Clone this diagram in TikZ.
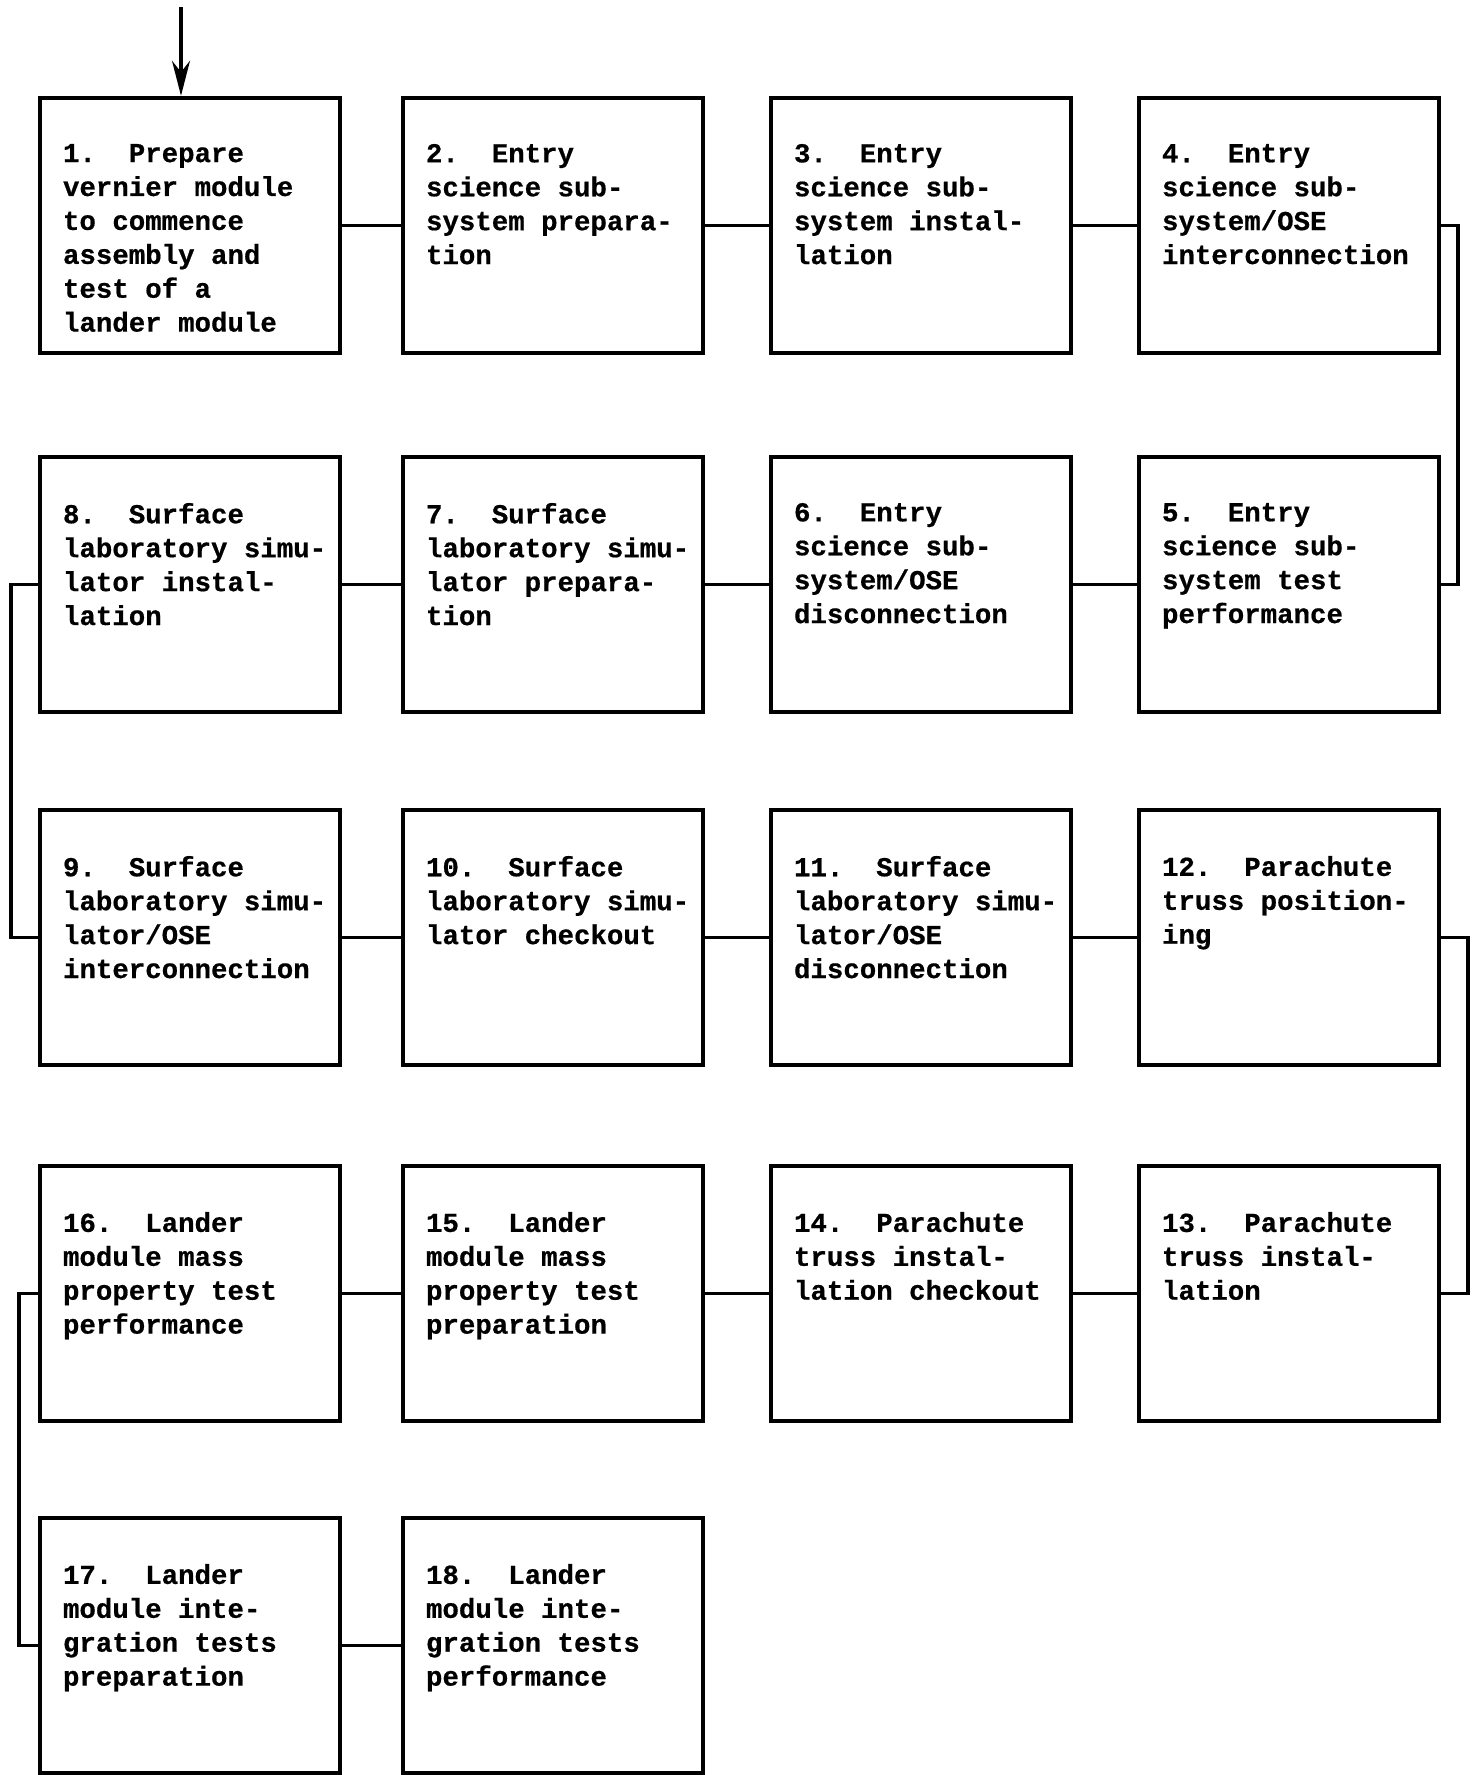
\documentclass[tikz,border=0pt]{standalone}
\usepackage{fontspec}
\setmonofont{Liberation Mono}[BoldFeatures={FakeBold=0.6}]
\usetikzlibrary{arrows.meta}
\newcommand{\boxtext}[1]{\makebox[5.08cm][l]{\parbox[t][3.26cm][t]{6.5cm}{\ttfamily\bfseries\fontsize{15.6}{19.3}\selectfont\raggedright\frenchspacing #1}}}
\tikzset{
  stepbox/.style={draw, line width=2.6pt, minimum width=6cm, minimum height=5.1cm,
    inner xsep=0.46cm, inner ysep=0.92cm},
  conn/.style={line width=1.8pt},
}
\begin{document}
\begin{tikzpicture}[x=0.02cm, y=-0.02cm]
\useasboundingbox (0,0) rectangle (1474,1775);
% row 1
\node[stepbox] (b1) at (190,225.5) {\boxtext{1.\ \ Prepare\\vernier module\\to commence\\assembly and\\test of a\\lander module}};
\node[stepbox] (b2) at (553,225.5) {\boxtext{2.\ \ Entry\\science sub-\\system prepara-\\tion}};
\node[stepbox] (b3) at (921,225.5) {\boxtext{3.\ \ Entry\\science sub-\\system instal-\\lation}};
\node[stepbox] (b4) at (1289,225.5) {\boxtext{4.\ \ Entry\\science sub-\\system/OSE\\interconnection}};
% row 2
\node[stepbox] (b8) at (190,584.5) {\boxtext{8.\ \ Surface\\laboratory simu-\\lator instal-\\lation}};
\node[stepbox] (b7) at (553,584.5) {\boxtext{7.\ \ Surface\\laboratory simu-\\lator prepara-\\tion}};
\node[stepbox] (b6) at (921,584.5) {\boxtext{6.\ \ Entry\\science sub-\\system/OSE\\disconnection}};
\node[stepbox] (b5) at (1289,584.5) {\boxtext{5.\ \ Entry\\science sub-\\system test\\performance}};
% row 3
\node[stepbox] (b9) at (190,937.5) {\boxtext{9.\ \ Surface\\laboratory simu-\\lator/OSE\\interconnection}};
\node[stepbox] (b10) at (553,937.5) {\boxtext{10.\ \ Surface\\laboratory simu-\\lator checkout}};
\node[stepbox] (b11) at (921,937.5) {\boxtext{11.\ \ Surface\\laboratory simu-\\lator/OSE\\disconnection}};
\node[stepbox] (b12) at (1289,937.5) {\boxtext{12.\ \ Parachute\\truss position-\\ing}};
% row 4
\node[stepbox] (b16) at (190,1293.5) {\boxtext{16.\ \ Lander\\module mass\\property test\\performance}};
\node[stepbox] (b15) at (553,1293.5) {\boxtext{15.\ \ Lander\\module mass\\property test\\preparation}};
\node[stepbox] (b14) at (921,1293.5) {\boxtext{14.\ \ Parachute\\truss instal-\\lation checkout}};
\node[stepbox] (b13) at (1289,1293.5) {\boxtext{13.\ \ Parachute\\truss instal-\\lation}};
% row 5
\node[stepbox] (b17) at (190,1645.5) {\boxtext{17.\ \ Lander\\module inte-\\gration tests\\preparation}};
\node[stepbox] (b18) at (553,1645.5) {\boxtext{18.\ \ Lander\\module inte-\\gration tests\\performance}};
% entry arrow
\coordinate (start) at (181,7);
\draw[conn,-{Stealth[length=0.7cm,width=0.36cm]}] (start) -- (start |- b1.north);
% horizontal connectors
\draw[conn] (b1) -- (b2);
\draw[conn] (b2) -- (b3);
\draw[conn] (b3) -- (b4);
\draw[conn] (b5) -- (b6);
\draw[conn] (b6) -- (b7);
\draw[conn] (b7) -- (b8);
\draw[conn] (b9) -- (b10);
\draw[conn] (b10) -- (b11);
\draw[conn] (b11) -- (b12);
\draw[conn] (b13) -- (b14);
\draw[conn] (b14) -- (b15);
\draw[conn] (b15) -- (b16);
\draw[conn] (b17) -- (b18);
% loops
\coordinate (r1) at (1458,0);
\coordinate (l1) at (11,0);
\coordinate (r2) at (1468,0);
\coordinate (l2) at (19,0);
\draw[conn] (b4.east) -- (b4.east -| r1) |- (b5.east);
\draw[conn] (b8.west) -- (b8.west -| l1) |- (b9.west);
\draw[conn] (b12.east) -- (b12.east -| r2) |- (b13.east);
\draw[conn] (b16.west) -- (b16.west -| l2) |- (b17.west);
\end{tikzpicture}
\end{document}
